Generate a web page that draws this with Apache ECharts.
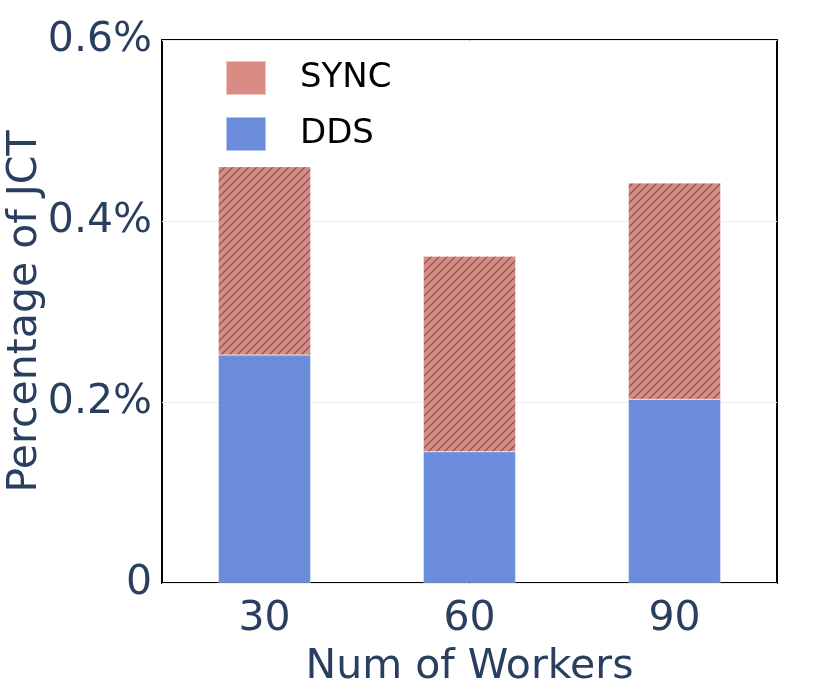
<!DOCTYPE html>
<html lang="en">
<head>
  <meta charset="UTF-8">
  <title>Percentage of JCT</title>
  <style type="text/css">
    html, body { margin: 0; padding: 0; background: #fff; }
    #chart { width: 830px; height: 692px; }
  </style>
</head>
<body>
  <div id="chart"></div>
  <script src="https://cdn.jsdelivr.net/npm/echarts@6/dist/echarts.min.js"></script>
  <script>
    // values in percent
    const workers = ['30', '60', '90']
    const ddsValues = [0.252, 0.145, 0.203]
    const syncValues = [0.208, 0.216, 0.239]
    const yTicks = [0, 0.2, 0.4, 0.6]

    const syncColor = '#d98b84'
    const ddsColor = '#6b8bdb'
    const textColor = '#2a3f5f'
    const font = 'DejaVu Sans'

    // diagonal hatch tile for the SYNC bars
    function hatchPattern () {
      const s = 8
      const c = document.createElement('canvas')
      c.width = s
      c.height = s
      const ctx = c.getContext('2d')
      ctx.fillStyle = syncColor
      ctx.fillRect(0, 0, s, s)
      ctx.strokeStyle = 'rgba(80,60,60,0.6)'
      ctx.lineWidth = 1.3
      ctx.beginPath()
      ctx.moveTo(0, s); ctx.lineTo(s, 0)
      ctx.moveTo(-1, 1); ctx.lineTo(1, -1)
      ctx.moveTo(s - 1, s + 1); ctx.lineTo(s + 1, s - 1)
      ctx.stroke()
      return { image: c, repeat: 'repeat' }
    }

    const myChart = echarts.init(document.getElementById('chart'))

    const option = {
      animation: false,
      textStyle: { fontFamily: font },
      grid: {
        left: 162, right: 53, top: 40, bottom: 109,
        containLabel: false,
        outerBoundsMode: 'none',
        show: true, borderColor: '#000', borderWidth: 2,
        backgroundColor: 'transparent'
      },
      legend: {
        left: 220, top: 55, orient: 'vertical',
        itemWidth: 40, itemHeight: 34, itemGap: 20,
        icon: 'rect',
        textStyle: { fontSize: 34, color: '#000', fontFamily: font, padding: [0, 0, 0, 29] },
        data: [
          { name: 'SYNC', itemStyle: { color: syncColor } },
          { name: 'DDS', itemStyle: { color: ddsColor } }
        ]
      },
      xAxis: {
        type: 'category',
        data: workers,
        name: 'Num of Workers',
        nameLocation: 'middle',
        nameGap: 64,
        nameMoveOverlap: false,
        nameTextStyle: { fontSize: 41, color: textColor, fontFamily: font },
        axisLine: { show: false },
        axisTick: { show: false },
        axisLabel: { fontSize: 41, color: textColor, margin: 16, fontFamily: font }
      },
      yAxis: {
        type: 'value',
        min: yTicks[0],
        max: yTicks[yTicks.length - 1],
        interval: 0.2,
        name: 'Percentage of JCT',
        nameLocation: 'middle',
        nameGap: 116,
        nameMoveOverlap: false,
        nameTextStyle: { fontSize: 41, color: textColor, fontFamily: font },
        axisLine: { show: false },
        axisTick: { show: false },
        axisLabel: {
          fontSize: 41, color: textColor, margin: 10, fontFamily: font,
          formatter: v => v === 0 ? '0' : v.toFixed(1) + '%'
        },
        splitLine: { lineStyle: { color: '#ececec', width: 1 } }
      },
      series: [
        {
          name: 'DDS',
          type: 'bar',
          stack: 'total',
          barWidth: '45%',
          data: ddsValues,
          itemStyle: { color: ddsColor, borderColor: 'rgba(255,255,255,0.5)', borderWidth: 0.5 }
        },
        {
          name: 'SYNC',
          type: 'bar',
          stack: 'total',
          barWidth: '45%',
          data: syncValues,
          itemStyle: { color: hatchPattern(), borderColor: 'rgba(255,255,255,0.5)', borderWidth: 0.5 }
        }
      ]
    }

    myChart.setOption(option)
  </script>
</body>
</html>
